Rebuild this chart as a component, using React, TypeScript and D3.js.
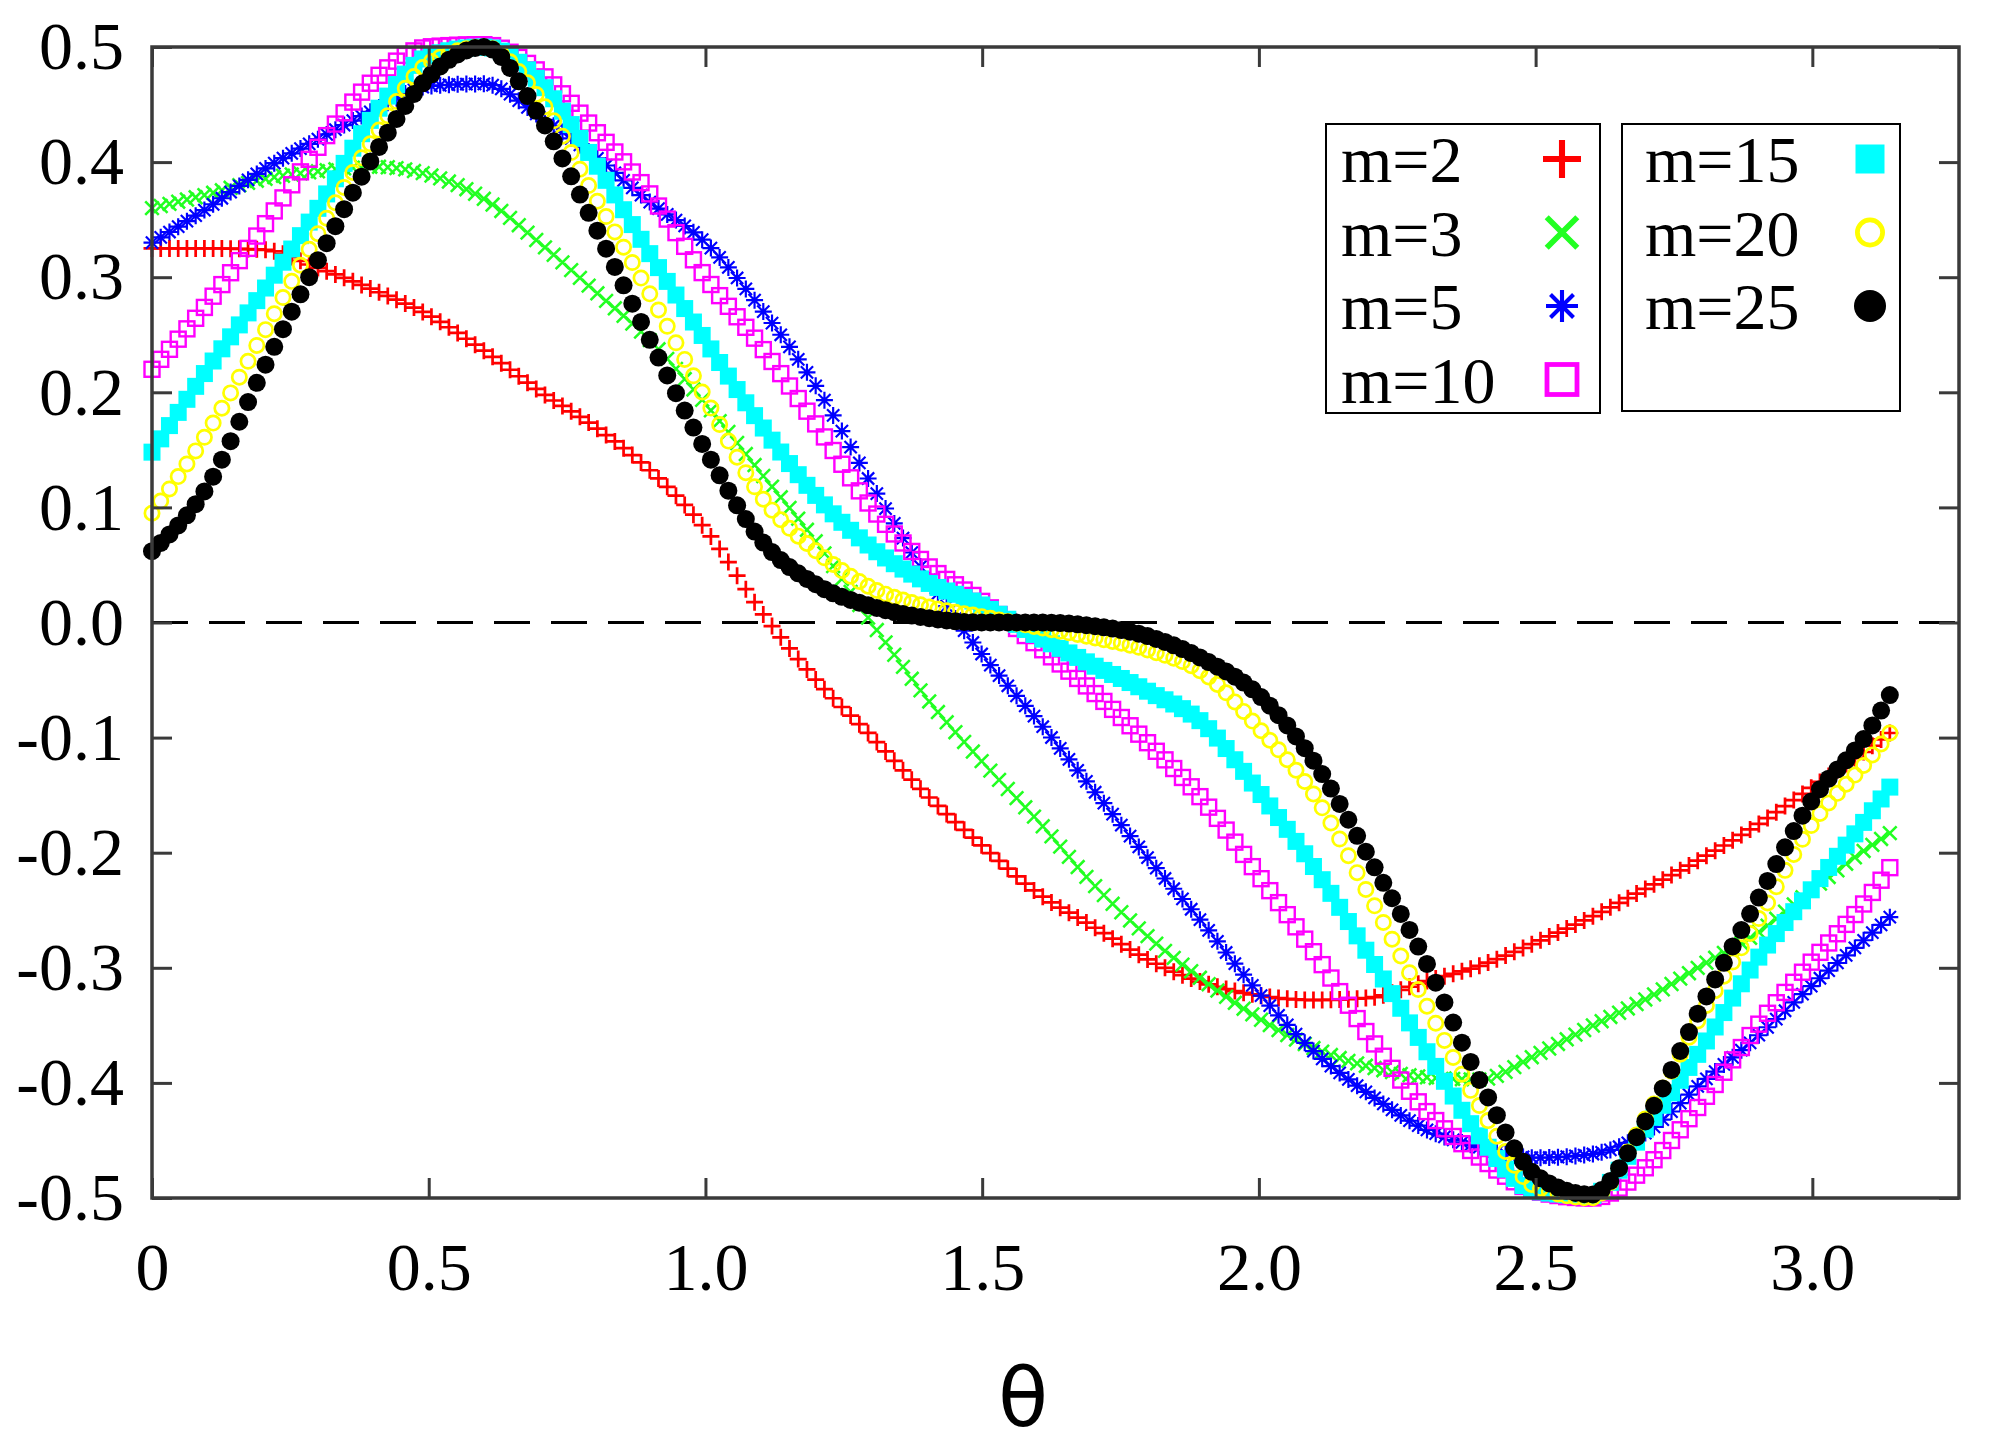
import { useEffect, useRef } from 'react';
import * as d3 from 'd3';

// sample angles (last one is ~pi, where the curves end)
const thetas = [
  0, 0.1, 0.2, 0.3, 0.4, 0.5, 0.6, 0.7, 0.8, 0.9, 1.0, 1.1, 1.2, 1.3, 1.4, 1.5, 1.6,
  1.7, 1.8, 1.9, 2.0, 2.1, 2.2, 2.3, 2.4, 2.5, 2.6, 2.7, 2.8, 2.9, 3.0, 3.1, 3.14,
];

const m2 = [
  0.325, 0.325, 0.324, 0.308, 0.289, 0.267, 0.236, 0.201, 0.17, 0.132, 0.081, 0.01, -0.05,
  -0.099, -0.15, -0.194, -0.235, -0.264, -0.293, -0.313, -0.324, -0.328, -0.326, -0.312,
  -0.298, -0.278, -0.256, -0.231, -0.205, -0.176, -0.143, -0.11, -0.096,
];
const m3 = [
  0.36, 0.372, 0.385, 0.392, 0.396, 0.389, 0.368, 0.33, 0.288, 0.245, 0.19, 0.13, 0.07, 0.0,
  -0.066, -0.121, -0.172, -0.227, -0.273, -0.311, -0.344, -0.37, -0.386, -0.395, -0.397,
  -0.376, -0.351, -0.327, -0.298, -0.27, -0.232, -0.196, -0.183,
];
const m5 = [
  0.33, 0.36, 0.393, 0.42, 0.445, 0.466, 0.468, 0.44, 0.405, 0.365, 0.33, 0.273, 0.205, 0.12,
  0.04, -0.028, -0.085, -0.145, -0.205, -0.262, -0.322, -0.373, -0.41, -0.44, -0.456, -0.465,
  -0.462, -0.443, -0.4, -0.36, -0.315, -0.273, -0.256,
];
const m10 = [
  0.22, 0.277, 0.343, 0.413, 0.471, 0.5, 0.502, 0.478, 0.428, 0.372, 0.3, 0.24, 0.172, 0.1,
  0.05, 0.018, -0.02, -0.06, -0.105, -0.155, -0.22, -0.287, -0.36, -0.423, -0.465, -0.494,
  -0.5, -0.473, -0.417, -0.351, -0.294, -0.24, -0.213,
];
const m15 = [
  0.148, 0.22, 0.287, 0.36, 0.44, 0.492, 0.5, 0.47, 0.4, 0.32, 0.245, 0.172, 0.11, 0.065,
  0.035, 0.015, -0.012, -0.037, -0.06, -0.088, -0.147, -0.213, -0.29, -0.37, -0.447, -0.494,
  -0.498, -0.439, -0.37, -0.293, -0.231, -0.169, -0.143,
];
const m20 = [
  0.095, 0.165, 0.25, 0.338, 0.42, 0.486, 0.5, 0.455, 0.37, 0.285, 0.195, 0.11, 0.062, 0.03,
  0.014, 0.005, -0.004, -0.013, -0.024, -0.044, -0.092, -0.15, -0.238, -0.33, -0.421, -0.49,
  -0.5, -0.43, -0.34, -0.26, -0.175, -0.12, -0.096,
];
const m25 = [
  0.062, 0.118, 0.219, 0.315, 0.405, 0.474, 0.5, 0.44, 0.345, 0.245, 0.15, 0.072, 0.033,
  0.014, 0.004, 0.0, 0.0, -0.003, -0.012, -0.032, -0.063, -0.121, -0.205, -0.293, -0.399,
  -0.48, -0.497, -0.432, -0.333, -0.242, -0.154, -0.096, -0.063,
];

const seriesNames = ['m=2', 'm=3', 'm=5', 'm=10', 'm=15', 'm=20', 'm=25'];
const seriesValues = [m2, m3, m5, m10, m15, m20, m25];
const seriesColors = ['#ff0000', '#22ff22', '#0000ff', '#ff00ff', '#00ffff', '#ffff00', '#000000'];
const seriesSymbols = ['plus', 'cross', 'star', 'square', 'squareFilled', 'circle', 'circleFilled'];

const xTickValues = [0, 0.5, 1, 1.5, 2, 2.5, 3];
const xTickLabels = ['0', '0.5', '1.0', '1.5', '2.0', '2.5', '3.0'];
const yTickValues = [0.5, 0.4, 0.3, 0.2, 0.1, 0, -0.1, -0.2, -0.3, -0.4, -0.5];
const yTickLabels = ['0.5', '0.4', '0.3', '0.2', '0.1', '0.0', '-0.1', '-0.2', '-0.3', '-0.4', '-0.5'];

const SERIF = "'Liberation Serif', 'Times New Roman', serif";

type G = d3.Selection<SVGGElement, unknown, null, undefined>;

// gnuplot-like point types
const drawMarker = (g: G, kind: string, color: string, size: number) => {
  const h = size / 2;
  const sw = Math.max(2.4, size * 0.16);
  if (kind === 'plus') {
    g.append('path').attr('d', `M${-h},0H${h}M0,${-h}V${h}`)
      .attr('stroke', color).attr('stroke-width', sw).attr('fill', 'none');
  } else if (kind === 'cross') {
    const c = h * 0.85;
    g.append('path').attr('d', `M${-c},${-c}L${c},${c}M${-c},${c}L${c},${-c}`)
      .attr('stroke', color).attr('stroke-width', sw).attr('fill', 'none');
  } else if (kind === 'star') {
    const c = h * 0.72;
    g.append('path')
      .attr('d', `M${-h},0H${h}M0,${-h}V${h}M${-c},${-c}L${c},${c}M${-c},${c}L${c},${-c}`)
      .attr('stroke', color).attr('stroke-width', sw * 0.8).attr('fill', 'none');
  } else if (kind === 'square') {
    g.append('rect').attr('x', -h).attr('y', -h).attr('width', size).attr('height', size)
      .attr('stroke', color).attr('stroke-width', sw).attr('fill', 'none');
  } else if (kind === 'squareFilled') {
    g.append('rect').attr('x', -h).attr('y', -h).attr('width', size).attr('height', size)
      .attr('fill', color);
  } else if (kind === 'circle') {
    g.append('circle').attr('r', h - sw / 2)
      .attr('stroke', color).attr('stroke-width', sw).attr('fill', 'none');
  } else {
    g.append('circle').attr('r', h).attr('fill', color);
  }
};

const App = () => {
  const svgRef = useRef<SVGSVGElement>(null);

  useEffect(() => {
    if (!svgRef.current) return;
    const svg = d3.select(svgRef.current);
    svg.selectAll('*').remove();

    const left = 152;
    const right = 1959;
    const top = 47;
    const bottom = 1198;

    const x = d3.scaleLinear().domain([0, 3.265]).range([left, right]);
    const y = d3.scaleLinear().domain([-0.5, 0.5]).range([bottom, top]);

    svg.append('rect').attr('width', 2005).attr('height', 1449).attr('fill', '#fff');

    // zero line
    svg.append('line')
      .attr('x1', left).attr('x2', right)
      .attr('y1', y(0)).attr('y2', y(0))
      .attr('stroke', '#000').attr('stroke-width', 3)
      .attr('stroke-dasharray', '36,21');

    // series: a smooth guide through the read values, points sampled along it
    const line = d3.line<number>()
      .x((_, i) => x(thetas[i]))
      .y((d) => y(d))
      .curve(d3.curveMonotoneX);

    const nPoints = 200;
    const tEnd = thetas[thetas.length - 1];
    const plotSizes = [17, 16, 17, 15, 17, 17, 18];

    seriesValues.forEach((values, si) => {
      const guide = svg.append('path')
        .attr('d', line(values) ?? '')
        .attr('fill', 'none')
        .attr('stroke', 'none');
      const node = guide.node() as SVGPathElement;
      const total = node.getTotalLength();
      const layer = svg.append('g').attr('class', `series-${si}`);

      d3.range(nPoints).forEach((k) => {
        const tx = x((tEnd * k) / (nPoints - 1));
        let lo = 0;
        let hi = total;
        for (let it = 0; it < 22; it++) {
          const mid = (lo + hi) / 2;
          if (node.getPointAtLength(mid).x < tx) lo = mid;
          else hi = mid;
        }
        const p = node.getPointAtLength((lo + hi) / 2);
        const g = layer.append('g').attr('transform', `translate(${p.x},${p.y})`);
        drawMarker(g, seriesSymbols[si], seriesColors[si], plotSizes[si]);
      });
      guide.remove();
    });

    // frame
    svg.append('rect')
      .attr('x', left).attr('y', top)
      .attr('width', right - left).attr('height', bottom - top)
      .attr('fill', 'none').attr('stroke', '#3a3a3a').attr('stroke-width', 3.5);

    const styleAxis = (g: G) => {
      g.select('.domain').remove();
      g.selectAll('.tick line').attr('stroke', '#3a3a3a').attr('stroke-width', 3);
      g.selectAll('.tick text')
        .attr('font-family', SERIF)
        .attr('font-size', 68)
        .attr('fill', '#000');
    };

    svg.append('g')
      .attr('transform', `translate(${left},0)`)
      .call(
        d3.axisLeft(y).tickValues(yTickValues)
          .tickFormat((_, i) => yTickLabels[i]).tickSize(-20).tickPadding(28)
      )
      .call(styleAxis);

    svg.append('g')
      .attr('transform', `translate(${right},0)`)
      .call(d3.axisRight(y).tickValues(yTickValues).tickFormat(() => '').tickSize(-20))
      .call(styleAxis);

    svg.append('g')
      .attr('transform', `translate(0,${bottom})`)
      .call(
        d3.axisBottom(x).tickValues(xTickValues)
          .tickFormat((_, i) => xTickLabels[i]).tickSize(-20).tickPadding(44)
      )
      .call(styleAxis);

    svg.append('g')
      .attr('transform', `translate(0,${top})`)
      .call(d3.axisTop(x).tickValues(xTickValues).tickFormat(() => '').tickSize(-20))
      .call(styleAxis);

    // axis title
    svg.append('text')
      .attr('x', 1023).attr('y', 1426)
      .attr('text-anchor', 'middle')
      .attr('font-family', "'DejaVu Sans', sans-serif")
      .attr('font-size', 82)
      .attr('fill', '#000')
      .text('θ');

    // legend: two boxed columns
    const legendBoxes = [
      { x: 1326, y: 124, w: 274, h: 289, textX: 1341, markX: 1562, items: [0, 1, 2, 3] },
      { x: 1622, y: 124, w: 278, h: 287, textX: 1645, markX: 1870, items: [4, 5, 6] },
    ];
    const legendSizes = [38, 36, 32, 30, 29, 30, 32];
    legendBoxes.forEach((box) => {
      svg.append('rect')
        .attr('x', box.x).attr('y', box.y)
        .attr('width', box.w).attr('height', box.h)
        .attr('fill', '#fff').attr('stroke', '#000').attr('stroke-width', 2);
      box.items.forEach((si, row) => {
        const baseline = 182 + row * 73.5;
        svg.append('text')
          .attr('x', box.textX).attr('y', baseline)
          .attr('font-family', SERIF)
          .attr('font-size', 66)
          .attr('fill', '#000')
          .text(seriesNames[si]);
        const g = svg.append('g')
          .attr('transform', `translate(${box.markX},${baseline - 23})`);
        drawMarker(g, seriesSymbols[si], seriesColors[si], legendSizes[si]);
      });
    });
  }, []);

  return (
    <svg
      ref={svgRef}
      width={2005}
      height={1449}
      style={{ position: 'absolute', left: 0, top: 0, display: 'block' }}
    />
  );
};

export default App;
